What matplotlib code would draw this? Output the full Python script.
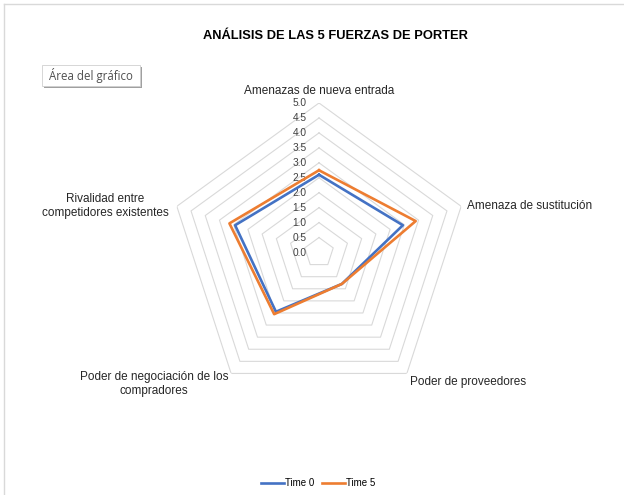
import numpy as np
import matplotlib
matplotlib.use("Agg")
import matplotlib.pyplot as plt
from matplotlib.lines import Line2D
from matplotlib.patches import Rectangle

plt.rcParams['font.family'] = ['Liberation Sans', 'DejaVu Sans']

# datos
categories = ["Amenazas de nueva entrada", "Amenaza de sustitución",
              "Poder de proveedores", "Poder de negociación de los\ncompradores",
              "Rivalidad entre\ncompetidores existentes"]
time0 = [2.6, 2.95, 1.3, 2.45, 2.95]
time5 = [2.75, 3.4, 1.3, 2.55, 3.15]
series_names = ["Time 0", "Time 5"]
rings = [0.5, 1.0, 1.5, 2.0, 2.5, 3.0, 3.5, 4.0, 4.5, 5.0]
tick_values = [0.0, 0.5, 1.0, 1.5, 2.0, 2.5, 3.0, 3.5, 4.0, 4.5, 5.0]

W, H = 624, 495
fig = plt.figure(figsize=(W / 100, H / 100), dpi=100)
fig.patch.set_facecolor("white")

# borde del area del grafico (arriba e izquierda)
fig.add_artist(Line2D([4 / W, 4 / W], [0, 1 - 4 / H], transform=fig.transFigure,
                      color="#D9D9D9", lw=1))
fig.add_artist(Line2D([4 / W, 1], [1 - 4 / H, 1 - 4 / H], transform=fig.transFigure,
                      color="#D9D9D9", lw=1))

cx, cy, R = 319, 252.5, 149.5
ax = fig.add_axes([(cx - R) / W, (H - cy - R) / H, 2 * R / W, 2 * R / H], projection="polar")
ax.set_theta_offset(np.pi / 2)
ax.set_theta_direction(-1)
ax.set_ylim(0, 5)
ax.grid(False)
ax.spines["polar"].set_visible(False)
ax.set_xticks([])
ax.set_yticks([])
ax.patch.set_alpha(0)

n = len(categories)
angles = np.linspace(0, 2 * np.pi, n, endpoint=False)
closed = np.concatenate([angles, angles[:1]])

# anillos pentagonales
for r in rings:
    ax.plot(closed, [r] * (n + 1), color="#D9D9D9", lw=0.8, zorder=1)

# etiquetas del eje radial
for v in tick_values:
    ax.annotate(f"{v:.1f}", xy=(0, v), xytext=(-9, 0), textcoords="offset points",
                ha="right", va="center", fontsize=7.3, color="#404040")

colors = ["#4472C4", "#ED7D31"]
for vals, name, c in zip([time0, time5], series_names, colors):
    ax.plot(closed, list(vals) + [vals[0]], color=c, lw=1.9, label=name, zorder=3)

# etiquetas de categorias
label_pos = [
    (0, 4, "center", "bottom"),
    (4, 0, "left", "center"),
    (2, -2, "left", "top"),
    (-2, 1.5, "right", "top"),
    (-6, 0, "right", "center"),
]
for ang, lab, (dx, dy, ha, va) in zip(angles, categories, label_pos):
    ax.annotate(lab, xy=(ang, 5.0), xytext=(dx, dy), textcoords="offset points",
                ha=ha, va=va, fontsize=8.5, color="#262626", multialignment="center",
                annotation_clip=False)

fig.text(335.5 / W, 1 - 36 / H, "ANÁLISIS DE LAS 5 FUERZAS DE PORTER",
         ha="center", va="center", fontsize=9.3, fontweight="bold", color="#000000")

# etiqueta "Área del gráfico" con sombra
fig.add_artist(Rectangle((44 / W, 1 - 88 / H), 98 / W, 21 / H, transform=fig.transFigure,
                         fc="#A0A0A0", ec="none"))
fig.add_artist(Rectangle((42 / W, 1 - 86 / H), 98 / W, 21 / H, transform=fig.transFigure,
                         fc="white", ec="#D0D0D0", lw=0.6))
fig.text(91 / W, 1 - 75.5 / H, "Área del gráfico", ha="center", va="center",
         fontsize=8.3, color="#505050", family=["Open Sans", "DejaVu Sans"])

fig.legend(loc="center", bbox_to_anchor=(318 / W, 1 - 483 / H), ncol=2, frameon=False,
           fontsize=7, handlelength=2.4, handletextpad=0.1, columnspacing=0.8)

fig.savefig("out.png", dpi=100)
